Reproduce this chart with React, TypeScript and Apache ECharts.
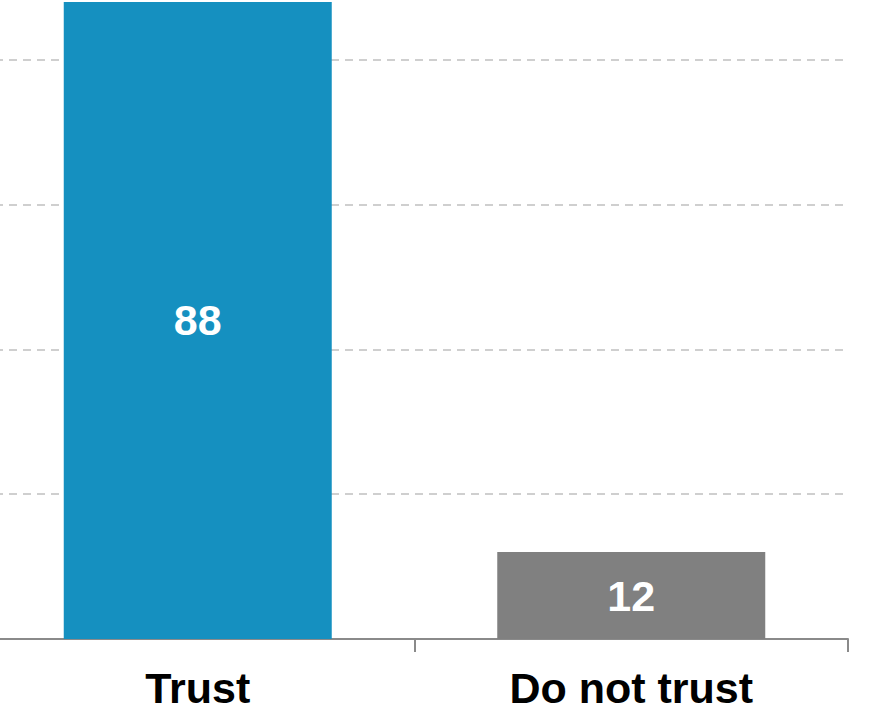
import React, { useEffect, useRef } from "react";
import * as echarts from "echarts";

const categories = ["Trust", "Do not trust"];
const values = [88, 12];
const barColors = ["#1590c0", "#808080"];

const OFF_X = 19;
const OFF_Y = 85;

export default function App() {
  const ref = useRef<HTMLDivElement>(null);
  useEffect(() => {
    if (!ref.current) return;
    const chart = echarts.init(ref.current, null, { renderer: "svg" });
    chart.setOption({
      animation: false,
      grid: { left: 0, right: 37, top: 0, bottom: 82, containLabel: false },
      xAxis: {
        type: "category",
        data: categories,
        axisLine: { lineStyle: { color: "#8a8a8a", width: 2 } },
        axisTick: { show: true, length: 13, lineStyle: { color: "#8a8a8a", width: 2 } },
        axisLabel: {
          color: "#000",
          fontFamily: "Liberation Sans, Arial, sans-serif",
          fontWeight: "bold",
          fontSize: 43,
          margin: 27,
        },
      },
      yAxis: {
        type: "value",
        min: 0,
        max: 100,
        interval: 20,
        axisLine: { show: false },
        axisTick: { show: false },
        axisLabel: { show: false },
        splitLine: { lineStyle: { color: "#c0c0c0", width: 1.5, type: [8, 6] } },
      },
      series: [
        {
          type: "bar",
          barWidth: 268,
          data: values.map((v, i) => ({ value: v, itemStyle: { color: barColors[i] } })),
          label: {
            show: true,
            position: "inside",
            color: "#fff",
            fontFamily: "Liberation Sans, Arial, sans-serif",
            fontWeight: "bold",
            fontSize: 43,
          },
        },
      ],
    });
    return () => chart.dispose();
  }, []);
  return (
    <div
      ref={ref}
      style={{
        position: "fixed",
        left: -OFF_X,
        top: -OFF_Y,
        width: 885 + OFF_X,
        height: 721 + OFF_Y,
        background: "#fff",
      }}
    />
  );
}
